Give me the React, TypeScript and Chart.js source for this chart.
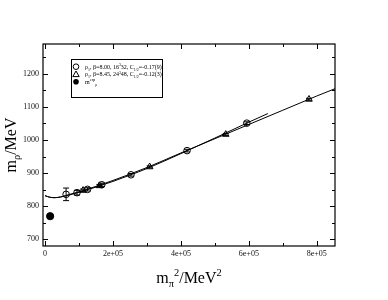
import React, { useEffect, useRef } from 'react';
import { Chart, registerables } from 'chart.js';
Chart.register(...registerables);

// ---- data ----
const circleX = [62000, 94000, 125000, 167000, 253000, 418000, 594000];
const circleY = [836, 841, 851, 865, 895, 968, 1051];
const circleErr = [19, 7, 5, 5, 4, 4, 4];

const triX = [112000, 160000, 308000, 532000, 777000];
const triY = [848, 862, 919, 1017, 1123];
const triErr = [4, 4, 3, 3, 3];

const expX = [15000];
const expY = [770];

const fitCircleX = [0, 15000, 30000, 45000, 60000, 100000, 150000, 200000, 250000, 300000, 400000, 500000, 600000, 656000];
const fitCircleY = [832, 827, 826, 828, 831, 842, 858, 875, 894, 914, 959, 1006, 1054, 1080];

const fitTriX = [0, 15000, 30000, 45000, 60000, 100000, 150000, 200000, 250000, 300000, 400000, 500000, 600000, 700000, 800000, 853600];
const fitTriY = [832, 827, 826, 828, 832, 844, 860, 878, 897, 917, 961, 1004, 1047, 1090, 1133, 1155];

const xTicks = [0, 200000, 400000, 600000, 800000];
const xMinor = [100000, 300000, 500000, 700000];
const yTicks = [700, 800, 900, 1000, 1100, 1200];
const yMinor = [750, 850, 950, 1050, 1150, 1250];

const X_MIN = -6000;
const X_MAX = 853600;
const Y_MIN = 680;
const Y_MAX = 1290;

const SERIF = '"Liberation Serif", "DejaVu Serif", serif';

type Seg = { t: string; k?: 'sub' | 'sup' };

function segFont(size: number, k?: string) {
  const s = k ? size * 0.65 : size;
  return `${s}px ${SERIF}`;
}

function richWidth(ctx: CanvasRenderingContext2D, segs: Seg[], size: number) {
  let w = 0;
  for (const s of segs) {
    ctx.font = segFont(size, s.k);
    w += ctx.measureText(s.t).width;
  }
  return w;
}

function drawRich(ctx: CanvasRenderingContext2D, segs: Seg[], x: number, y: number, size: number, align: 'left' | 'center') {
  let cx = x;
  if (align === 'center') cx = x - richWidth(ctx, segs, size) / 2;
  ctx.textAlign = 'left';
  ctx.textBaseline = 'alphabetic';
  for (const s of segs) {
    ctx.font = segFont(size, s.k);
    const dy = s.k === 'sub' ? size * 0.28 : s.k === 'sup' ? -size * 0.42 : 0;
    ctx.fillText(s.t, cx, y + dy);
    cx += ctx.measureText(s.t).width;
  }
}

const legendRows: Seg[][] = [
  [{ t: 'ρ' }, { t: '1', k: 'sub' }, { t: ', β=8.00, 16' }, { t: '3', k: 'sup' }, { t: '32, C' }, { t: '1/2', k: 'sub' }, { t: '=-0.17(9)' }],
  [{ t: 'ρ' }, { t: '1', k: 'sub' }, { t: ', β=8.45, 24' }, { t: '3', k: 'sup' }, { t: '48, C' }, { t: '1/2', k: 'sub' }, { t: '=-0.12(3)' }],
  [{ t: 'm' }, { t: 'exp', k: 'sup' }, { t: 'ρ', k: 'sub' }],
];

const yTitle: Seg[] = [{ t: 'm' }, { t: 'ρ', k: 'sub' }, { t: '/MeV' }];
const xTitle: Seg[] = [{ t: 'm' }, { t: 'π', k: 'sub' }, { t: '2', k: 'sup' }, { t: '/MeV' }, { t: '2', k: 'sup' }];

const decor = {
  id: 'decor',
  afterDatasetsDraw(chart: any) {
    const ctx: CanvasRenderingContext2D = chart.ctx;
    const xs = chart.scales.x;
    const ys = chart.scales.y;
    ctx.save();
    ctx.strokeStyle = '#000';
    ctx.lineWidth = 1;
    const bars = (X: number[], Y: number[], E: number[]) => {
      for (let i = 0; i < X.length; i++) {
        const px = xs.getPixelForValue(X[i]);
        const p1 = ys.getPixelForValue(Y[i] + E[i]);
        const p2 = ys.getPixelForValue(Y[i] - E[i]);
        ctx.beginPath();
        ctx.moveTo(px, p1);
        ctx.lineTo(px, p2);
        ctx.moveTo(px - 3, p1);
        ctx.lineTo(px + 3, p1);
        ctx.moveTo(px - 3, p2);
        ctx.lineTo(px + 3, p2);
        ctx.stroke();
      }
    };
    bars(circleX, circleY, circleErr);
    bars(triX, triY, triErr);
    ctx.restore();
  },
  afterDraw(chart: any) {
    const ctx: CanvasRenderingContext2D = chart.ctx;
    const a = chart.chartArea;
    const xs = chart.scales.x;
    const ys = chart.scales.y;
    ctx.save();
    ctx.strokeStyle = '#000';
    ctx.fillStyle = '#000';
    ctx.lineWidth = 1.2;
    ctx.strokeRect(a.left, a.top, a.right - a.left, a.bottom - a.top);
    ctx.lineWidth = 1;
    ctx.beginPath();
    const tx = (v: number, len: number) => {
      const p = Math.round(xs.getPixelForValue(v)) + 0.5;
      ctx.moveTo(p, a.bottom);
      ctx.lineTo(p, a.bottom - len);
      ctx.moveTo(p, a.top);
      ctx.lineTo(p, a.top + len);
    };
    const ty = (v: number, len: number) => {
      const p = Math.round(ys.getPixelForValue(v)) + 0.5;
      ctx.moveTo(a.left, p);
      ctx.lineTo(a.left + len, p);
      ctx.moveTo(a.right, p);
      ctx.lineTo(a.right - len, p);
    };
    xTicks.forEach((v) => tx(v, 5));
    xMinor.forEach((v) => tx(v, 3));
    yTicks.forEach((v) => ty(v, 5));
    yMinor.forEach((v) => ty(v, 3));
    ctx.stroke();

    // legend
    const bx = 71.5, by = 59.5, bw = 91, bh = 38;
    ctx.fillStyle = '#fff';
    ctx.fillRect(bx, by, bw, bh);
    ctx.strokeRect(bx, by, bw, bh);
    ctx.fillStyle = '#000';
    const rowY = [66.7, 74.2, 81.7];
    const sx = 76;
    ctx.beginPath();
    ctx.arc(sx, rowY[0], 2.8, 0, Math.PI * 2);
    ctx.stroke();
    ctx.beginPath();
    ctx.moveTo(sx, rowY[1] - 3.2);
    ctx.lineTo(sx + 3.2, rowY[1] + 2.4);
    ctx.lineTo(sx - 3.2, rowY[1] + 2.4);
    ctx.closePath();
    ctx.stroke();
    ctx.beginPath();
    ctx.arc(sx, rowY[2], 2.8, 0, Math.PI * 2);
    ctx.fill();
    const lsize = 6.0;
    legendRows.forEach((r, i) => drawRich(ctx, r, 85, rowY[i] + 2.2, lsize, 'left'));

    // axis titles
    const tsize = 16;
    drawRich(ctx, xTitle, (a.left + a.right) / 2, 283, tsize, 'center');
    ctx.save();
    ctx.translate(16, (a.top + a.bottom) / 2);
    ctx.rotate(-Math.PI / 2);
    drawRich(ctx, yTitle, 0, 0, tsize, 'center');
    ctx.restore();
    ctx.restore();
  },
};

export default function App() {
  const ref = useRef<HTMLCanvasElement | null>(null);
  useEffect(() => {
    if (!ref.current) return;
    const pts = (X: number[], Y: number[]) => X.map((x, i) => ({ x, y: Y[i] }));
    const chart = new Chart(ref.current, {
      type: 'scatter',
      data: {
        datasets: [
          {
            data: pts(fitCircleX, fitCircleY),
            showLine: true,
            borderColor: '#000',
            borderWidth: 1,
            pointRadius: 0,
            cubicInterpolationMode: 'monotone',
          } as any,
          {
            data: pts(fitTriX, fitTriY),
            showLine: true,
            borderColor: '#000',
            borderWidth: 1,
            pointRadius: 0,
            cubicInterpolationMode: 'monotone',
          } as any,
          {
            data: pts(circleX, circleY),
            pointStyle: 'circle',
            pointRadius: 3.3,
            borderColor: '#000',
            borderWidth: 1,
            backgroundColor: 'rgba(0,0,0,0)',
          },
          {
            data: pts(triX, triY),
            pointStyle: 'triangle',
            pointRadius: 3.8,
            borderColor: '#000',
            borderWidth: 1,
            backgroundColor: 'rgba(0,0,0,0)',
          },
          {
            data: pts(expX, expY),
            pointStyle: 'circle',
            pointRadius: 3.6,
            borderColor: '#000',
            borderWidth: 1,
            backgroundColor: '#000',
          },
        ],
      },
      options: {
        responsive: false,
        animation: false,
        events: [],
        layout: { padding: { left: 0, right: 53, top: 44, bottom: 0 } },
        plugins: { legend: { display: false }, tooltip: { enabled: false } },
        scales: {
          x: {
            type: 'linear',
            min: X_MIN,
            max: X_MAX,
            grid: { display: false, drawTicks: false },
            border: { display: false },
            afterFit: (s: any) => { s.height = 54; },
            afterBuildTicks: (s: any) => { s.ticks = xTicks.map((v) => ({ value: v })); },
            ticks: {
              padding: 3,
              maxRotation: 0,
              color: '#111',
              font: { family: SERIF, size: 8 },
              callback: (v: any) => (v === 0 ? '0' : `${v / 100000}e+05`),
            },
          },
          y: {
            type: 'linear',
            min: Y_MIN,
            max: Y_MAX,
            grid: { display: false, drawTicks: false },
            border: { display: false },
            afterFit: (s: any) => { s.width = 43; },
            afterBuildTicks: (s: any) => { s.ticks = yTicks.map((v) => ({ value: v })); },
            ticks: {
              padding: 4,
              color: '#111',
              font: { family: SERIF, size: 8 },
              callback: (v: any) => `${v}`,
            },
          },
        },
      },
      plugins: [decor],
    });
    return () => chart.destroy();
  }, []);
  return (
    <div style={{ position: 'absolute', left: 0, top: 0, width: 388, height: 300, background: '#fff' }}>
      <canvas ref={ref} width={388} height={300} style={{ display: 'block' }} />
    </div>
  );
}
